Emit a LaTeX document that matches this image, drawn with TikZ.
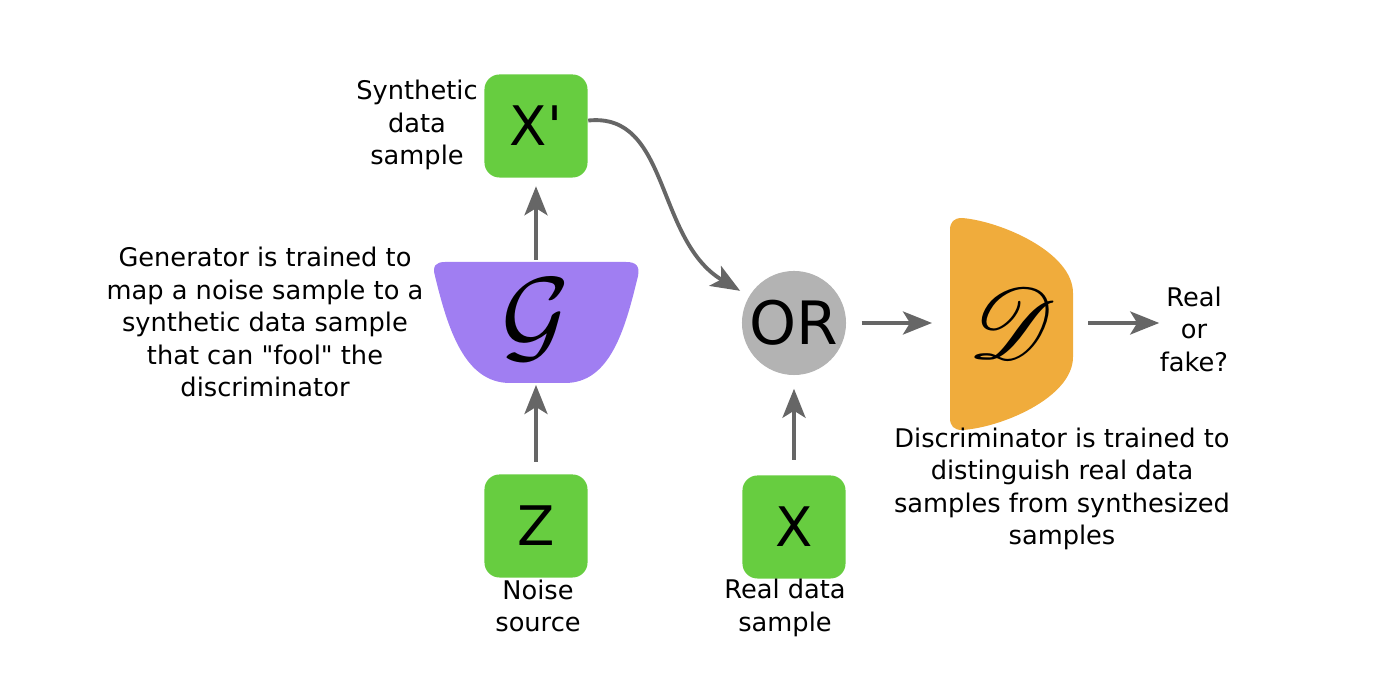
\RequirePackage{fix-cm}
\documentclass[tikz,border=0pt]{standalone}
\usepackage{fontspec}
\setmainfont{DejaVu Sans}
\usepackage{mathrsfs}
\usetikzlibrary{arrows.meta}
\definecolor{boxgreen}{HTML}{67CD40}
\definecolor{genpurple}{HTML}{A07EF2}
\definecolor{discorange}{HTML}{F0AC3C}
\definecolor{orgray}{HTML}{B3B3B3}
\definecolor{arrowgray}{HTML}{666666}
\begin{document}
\begin{tikzpicture}[x=0.01cm,y=-0.01cm,
  sample/.style={fill=boxgreen,rounded corners=0.15cm,minimum size=1.03cm,inner sep=0pt,font=\fontsize{15.5}{18}\selectfont},
  note/.style={align=center,inner sep=0pt,font=\fontsize{7.3}{9.25}\selectfont},
  arr/.style={-{Stealth[length=2.9mm,width=2.3mm,inset=0.7mm]},line width=1.1pt,draw=arrowgray}]
\useasboundingbox (0,0) rectangle (1390,674);
% generator and discriminator bodies
\fill[genpurple] (445,262) -- (626,262) .. controls (636,262) and (640,266) .. (638,276) .. controls (625,330) and (610,383) .. (565,383) -- (510,383) .. controls (465,383) and (448,330) .. (435,276) .. controls (432,266) and (436,262) .. (445,262) -- cycle;
\fill[discorange] (962,218) .. controls (1000,221) and (1073,252) .. (1073,293) -- (1073,357) .. controls (1073,398) and (1000,428) .. (962,430) .. controls (954,430) and (950,426) .. (950,418) -- (950,230) .. controls (950,222) and (954,218) .. (962,218) -- cycle;
\coordinate (Gtop) at (536,262);
\coordinate (Gbot) at (536,383);
\coordinate (Dwest) at (950,323);
\coordinate (Deast) at (1073,323);
\node[font=\Huge] (G) at (536,320) {\scalebox{1.2}{$\mathcal{G}$}};
\node[font=\Huge] (D) at (1012,323) {\scalebox{1.15}{$\mathscr{D}$}};
% samples
\node[sample] (Xp) at (536,126) {X\textquotesingle};
\node[sample] (Z) at (536,526) {Z};
\node[sample] (X) at (794,527) {X};
\node[circle,fill=orgray,minimum size=1.04cm,inner sep=0pt,font=\fontsize{17}{20}\selectfont] (OR) at (794,323) {OR};
% texts
\node[note] (synth) at (417,125) {Synthetic\\data\\sample};
\node[note] (gentext) at (265,322) {Generator is trained to\\map a noise sample to a\\synthetic data sample\\that can \textquotedbl fool\textquotedbl{} the\\discriminator};
\node[note] (noise) at (538,606) {Noise\\source};
\node[note] (real) at (785,608) {Real data\\sample};
\node[note] (disctext) at (1062,489) {Discriminator is trained to\\distinguish real data\\samples from synthesized\\samples};
\node[note] (RF) at (1194,329) {Real\\or\\fake?};
% connectors
\draw[arr,shorten <=0.2mm,shorten >=0.8mm] (Gtop) -- (Xp);
\draw[arr,shorten <=1.2mm,shorten >=0.2mm] (Z) -- (Gbot);
\draw[arr,shorten <=1.5mm,shorten >=1.3mm] (X) -- (OR);
\draw[arr,shorten <=1.5mm,shorten >=1.8mm] (OR) -- (Dwest);
\draw[arr,shorten <=1.5mm] (Deast) -- (RF.west |- Deast);
\draw[arr,shorten >=1mm] (Xp) .. controls (670,112) and (655,240) .. (OR);
\end{tikzpicture}
\end{document}
